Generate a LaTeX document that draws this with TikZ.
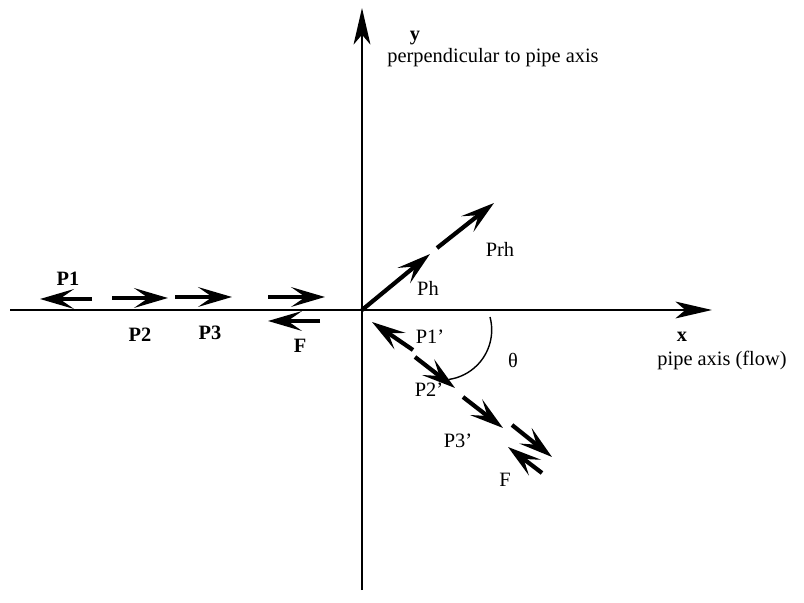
\documentclass[tikz,border=0pt]{standalone}
\usepackage{fontspec}
\setmainfont{Liberation Serif}
\usetikzlibrary{arrows.meta}

\begin{document}
\begin{tikzpicture}[x=0.025cm, y=-0.025cm,
  ax/.style={line width=1.3pt, -{Stealth[length=26pt,width=12pt,inset=7pt]}},
  frc/.style={line width=3pt, -{Stealth[length=24pt,width=14pt,inset=10pt]}},
  lbl/.style={font=\fontsize{14.5}{17}\selectfont, inner sep=1pt},
  blbl/.style={font=\fontsize{14.5}{17}\selectfont\bfseries, inner sep=1pt}]
\useasboundingbox (0,0) rectangle (804,603);
% axes
\coordinate (o) at (362,310);
\coordinate (xl) at (10,310);
\coordinate (xr) at (712,310);
\coordinate (yb) at (362,590);
\coordinate (yt) at (362,8);
\draw[ax] (xl) -- (xr);
\draw[ax] (yb) -- (yt);
\node[blbl] (ylab) at (415,38) {y};
\node[lbl] (yname) at (493,58) {perpendicular to pipe axis};
\node[blbl] (xlab) at (682,337) {x};
\node[lbl] (xname) at (722,360) {pipe axis (flow)};
% forces along the axis
\coordinate (p1a) at (92,299);  \coordinate (p1b) at (40,299);
\coordinate (p2a) at (112,298); \coordinate (p2b) at (168,298);
\coordinate (p3a) at (175,297); \coordinate (p3b) at (232,297);
\coordinate (p4a) at (268,297); \coordinate (p4b) at (325,297);
\coordinate (fa) at (320,321);  \coordinate (fb) at (268,321);
\draw[frc] (p1a) -- (p1b);
\draw[frc] (p2a) -- (p2b);
\draw[frc] (p3a) -- (p3b);
\draw[frc] (p4a) -- (p4b);
\draw[frc] (fa) -- (fb);
\node[blbl] (p1) at (68,279) {P1};
\node[blbl] (p2) at (140,335) {P2};
\node[blbl] (p3) at (210,333) {P3};
\node[blbl] (f) at (300,346) {F};
% hydrostatic forces
\coordinate (pha) at (430,254);
\coordinate (prha) at (437,248); \coordinate (prhb) at (494,203);
\draw[frc] (o) -- (pha);
\draw[frc] (prha) -- (prhb);
\node[lbl] (ph) at (428,288) {Ph};
\node[lbl] (prh) at (500,249) {Prh};
% forces along the bent leg
\coordinate (q1a) at (413,350); \coordinate (q1b) at (372,322);
\coordinate (q2a) at (415,357); \coordinate (q2b) at (455,388);
\coordinate (q3a) at (463,397); \coordinate (q3b) at (503,428);
\coordinate (q4a) at (512,425); \coordinate (q4b) at (552,457);
\coordinate (ga) at (542,473);  \coordinate (gb) at (508,447);
\draw[frc] (q1a) -- (q1b);
\draw[frc] (q2a) -- (q2b);
\draw[frc] (q3a) -- (q3b);
\draw[frc] (q4a) -- (q4b);
\draw[frc] (ga) -- (gb);
\node[lbl] (q1) at (430,337) {P1'};
\node[lbl] (q2) at (429,390) {P2'};
\node[lbl] (q3) at (458,441) {P3'};
\node[lbl] (g) at (505,480) {F};
% bend angle
\coordinate (th) at (490,317);
\draw[line width=1pt] (th) arc[start angle=15, end angle=-82, radius=1.25cm];
\node[lbl] (theta) at (513,360) {θ};
\end{tikzpicture}
\end{document}
